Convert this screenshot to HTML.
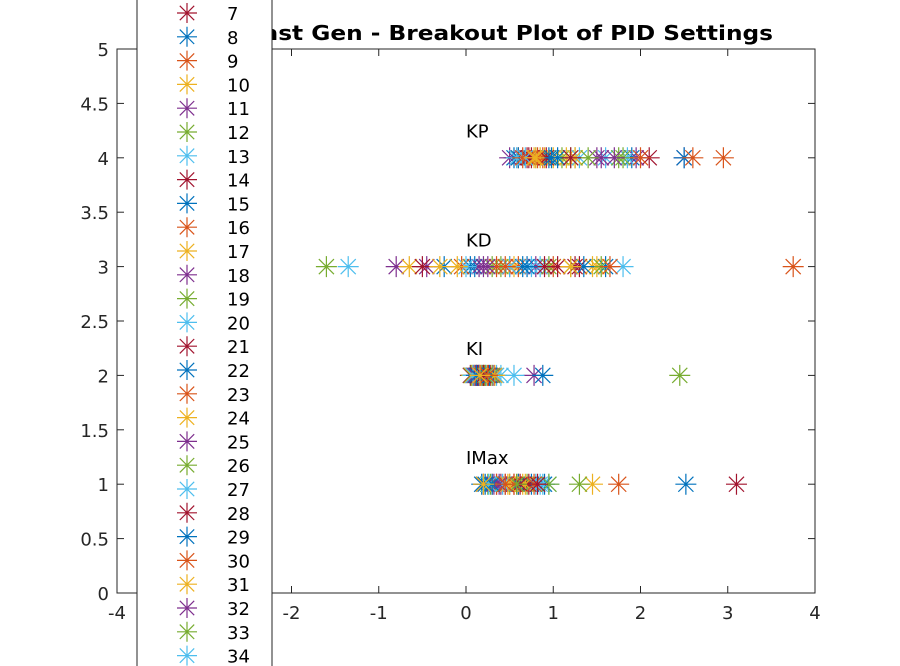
<!DOCTYPE html>
<html><head><meta charset="utf-8"><style>
html,body{margin:0;padding:0;background:#fff;}
svg{display:block;font-family:"DejaVu Sans","Liberation Sans",sans-serif;}
</style></head><body>
<svg id="chart" width="900" height="666">
<rect width="900" height="666" fill="#fff"/>
<g id="plot"></g>
<g id="axes"></g>
<text x="773" y="40" text-anchor="end" font-size="20" font-weight="bold" fill="#000" textLength="525" lengthAdjust="spacingAndGlyphs">Fast Gen - Breakout Plot of PID Settings</text>
<g id="legend"></g>
</svg>
<script>
const rowNames = ["IMax", "KI", "KD", "KP"];
const rowLevels = [1, 2, 3, 4];
const xTicks = [-4, -3, -2, -1, 0, 1, 2, 3, 4];
const xTickLabels = ["-4", "-3", "-2", "-1", "0", "1", "2", "3", "4"];
const yTicks = [0, 0.5, 1, 1.5, 2, 2.5, 3, 3.5, 4, 4.5, 5];
const yTickLabels = ["0", "0.5", "1", "1.5", "2", "2.5", "3", "3.5", "4", "4.5", "5"];
const legendLabels = ["7","8","9","10","11","12","13","14","15","16","17","18","19","20","21","22","23","24","25","26","27","28","29","30","31","32","33","34"];
const kpValues = [0.55,0.6,0.9,2.5,1.2,0.8,0.7,2.5,2.95,0.85,0.5,1.25,1.6,2.1,1.9,2.6,1.15,1.5,1.75,1.3,0.75,0.6,0.88,1.0,1.95,1.1,1.85,0.72,0.95,0.82,1.25,1.55,1.8,0.68,0.92,1.05,2.0,0.8,1.7,1.4,0.58,1.2,0.98,0.65,0.78];
const kdValues = [1.6,3.75,1.5,-0.8,0.3,-1.35,0.5,-0.25,1.0,-0.65,0.8,-1.6,1.8,1.3,0.1,0.6,1.45,-0.45,0.95,0.75,1.25,0.05,-0.05,0.55,0.2,0.4,0.85,-0.5,0.65,0.35,-0.3,0.15,1.55,0.0,0.9,0.7,1.65,-0.1,0.25,1.2,0.5,1.05,1.35,0.45,1.2];
const kiValues = [0.1,0.15,0.2,0.78,2.45,0.55,0.05,0.88,0.12,0.18,0.3,0.08,0.35,0.22,0.14,0.28,0.1,0.32,0.06,0.4,0.16,0.2,0.12,0.24,0.09,0.3,0.18,0.26,0.14,0.21,0.07,0.11,0.19,0.23,0.13,0.27,0.17,0.33,0.15,0.22,0.08,0.2,0.12,0.25,0.16];
const imaxValues = [2.52,1.75,1.45,0.35,1.3,0.95,3.1,0.75,0.6,0.4,0.5,0.25,0.85,0.55,0.9,0.3,0.65,0.45,0.7,0.8,0.2,0.6,0.35,0.5,0.4,0.28,0.88,0.72,0.18,0.55,0.68,0.32,0.95,0.42,0.62,0.22,0.78,0.48,0.38,0.58,0.26,0.82,0.3,0.45,0.2];
const colors = ["#0072BD","#D95319","#EDB120","#7E2F8E","#77AC30","#4DBEEE","#A2142F"];

const NS = "http://www.w3.org/2000/svg";
const X0 = 117, X1 = 815, Y0 = 593, Y1 = 49;
const xs = v => X0 + (v + 4) / 8 * (X1 - X0);
const ys = v => Y0 - v / 5 * (Y0 - Y1);
function mk(tag, attrs, parent) {
  const e = document.createElementNS(NS, tag);
  for (const k in attrs) e.setAttribute(k, attrs[k]);
  parent.appendChild(e);
  return e;
}
function star(parent, cx, cy, color, r) {
  const g = mk("g", {stroke: color, "stroke-width": 1.2, fill: "none"}, parent);
  const d = r * 0.72;
  mk("path", {d: `M${cx-r},${cy}H${cx+r}M${cx},${cy-r}V${cy+r}M${cx-d},${cy-d}L${cx+d},${cy+d}M${cx-d},${cy+d}L${cx+d},${cy-d}`}, g);
  return g;
}
const plot = document.getElementById("plot");
const axes = document.getElementById("axes");
const legend = document.getElementById("legend");

const box = mk("rect", {x: X0, y: Y1, width: X1 - X0, height: Y0 - Y1, fill: "none", stroke: "#262626", "stroke-width": 1}, axes);


xTicks.forEach((t, i) => {
  const x = xs(t);
  mk("line", {x1: x, x2: x, y1: Y0, y2: Y0 - 7, stroke: "#262626"}, axes);
  mk("line", {x1: x, x2: x, y1: Y1, y2: Y1 + 7, stroke: "#262626"}, axes);
  const tx = mk("text", {x: x, y: Y0 + 26, "text-anchor": "middle", "font-size": 18, fill: "#262626"}, axes);
  tx.textContent = xTickLabels[i];
  
  
});
yTicks.forEach((t, i) => {
  const y = ys(t);
  mk("line", {x1: X0, x2: X0 + 7, y1: y, y2: y, stroke: "#262626"}, axes);
  mk("line", {x1: X1, x2: X1 - 7, y1: y, y2: y, stroke: "#262626"}, axes);
  const ty = mk("text", {x: X0 - 8, y: y + 7, "text-anchor": "end", "font-size": 18, fill: "#262626"}, axes);
  ty.textContent = yTickLabels[i];
  
  
});
rowNames.forEach((n, i) => {
  const t = mk("text", {x: xs(0), y: ys(rowLevels[i] + 0.25) + 7, "font-size": 18, fill: "#000"}, plot);
  t.textContent = n;
  
  
});
const rows = [imaxValues, kiValues, kdValues, kpValues];
for (let s = 0; s < kpValues.length; s++) {
  const c = colors[s % 7];
  rows.forEach((vals, r) => {
    const g = star(plot, xs(vals[s]), ys(rowLevels[r]), c, 10.5);
    
    
  });
}
const lb = mk("rect", {x: 137, y: -5, width: 135, height: 680, fill: "#fff", stroke: "#262626", "stroke-width": 1}, legend);


legendLabels.forEach((lab, i) => {
  const y = 13 + i * 23.8;
  const c = colors[(parseInt(lab) - 1) % 7];
  const g = star(legend, 187, y, c, 10);
  
  
  const t = mk("text", {x: 227, y: y + 7, "font-size": 18, fill: "#000"}, legend);
  t.textContent = lab;
  
  
});
</script>
</body></html>
